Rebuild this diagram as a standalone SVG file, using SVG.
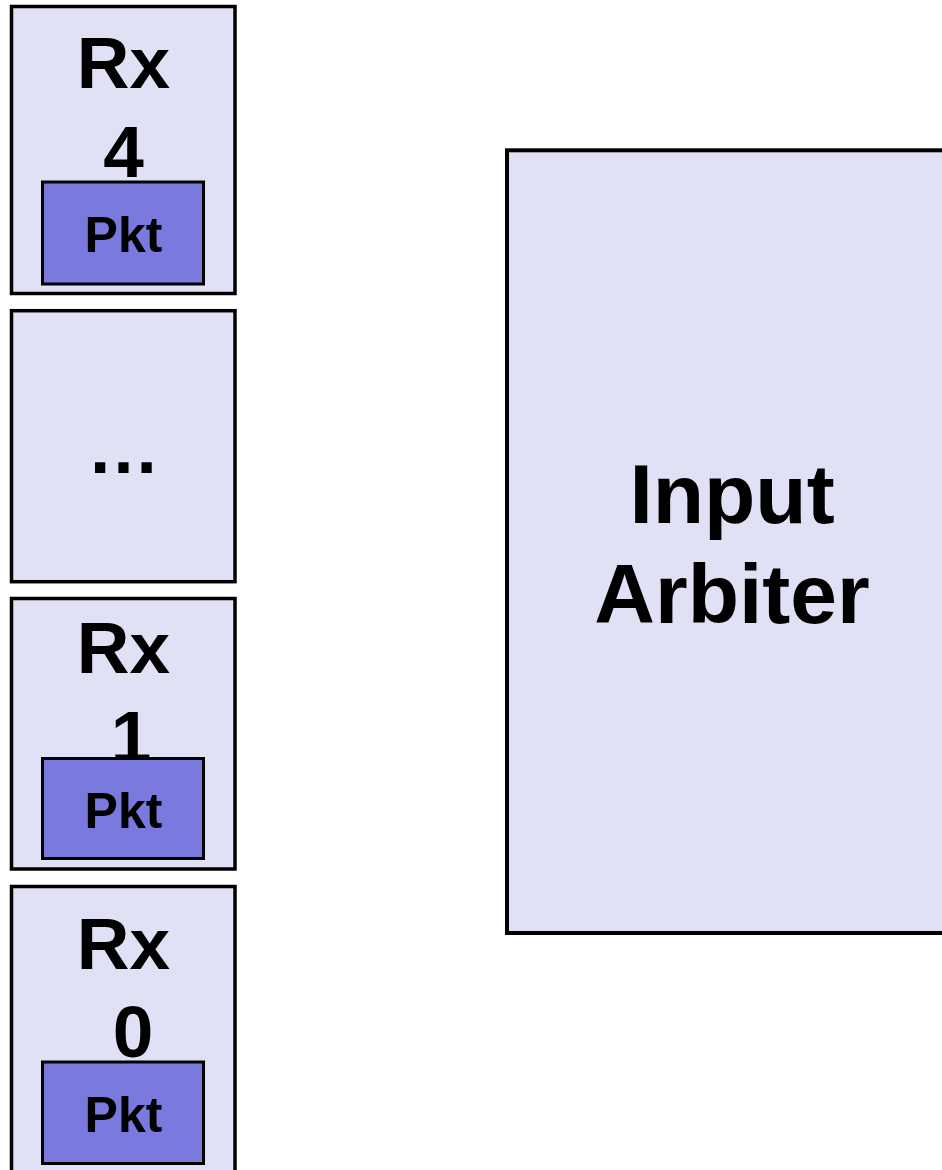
<svg xmlns="http://www.w3.org/2000/svg" width="942" height="1170" viewBox="0 0 942 1170">
<style>
.box{fill:#E1E1F6;stroke:#000;stroke-width:3.5}
.pkt{fill:#7979DE;stroke:#000;stroke-width:3}
text{font-family:"Liberation Sans",Arial,sans-serif;font-weight:bold;fill:#000;text-anchor:middle}
.big{font-size:73px}
.small{font-size:50px}
.arb{font-size:84px}
</style>
<rect width="942" height="1170" fill="#fff"/>
<g id="rx4">
<rect class="box" x="11.5" y="6.5" width="223.5" height="287"/>
<text class="big" x="123.5" y="88">Rx</text>
<text class="big" x="123.5" y="177">4</text>
<rect class="pkt" x="42.5" y="182" width="161" height="102"/>
<text class="small" x="123.5" y="252">Pkt</text>
</g>
<g id="rxdots">
<rect class="box" x="11.5" y="310.7" width="223.5" height="271"/>
<text class="big" x="123.5" y="473">…</text>
</g>
<g id="rx1">
<rect class="box" x="11.5" y="598.5" width="223.5" height="270.5"/>
<text class="big" x="123.5" y="673">Rx</text>
<text class="big" x="131" y="762">1</text>
<rect class="pkt" x="42.5" y="758.5" width="161" height="100"/>
<text class="small" x="123.5" y="828">Pkt</text>
</g>
<g id="rx0">
<rect class="box" x="11.5" y="886.5" width="223.5" height="300"/>
<text class="big" x="123.5" y="969">Rx</text>
<text class="big" x="133" y="1057">0</text>
<rect class="pkt" x="42.5" y="1062" width="161" height="101.5"/>
<text class="small" x="123.5" y="1132">Pkt</text>
</g>
<g id="arbiter">
<rect class="box" x="507" y="150.3" width="460" height="782.7" style="stroke-width:4"/>
<text class="arb" x="732" y="523">Input</text>
<text class="arb" x="732" y="623">Arbiter</text>
</g>
<g id="connectors"></g>
</svg>
